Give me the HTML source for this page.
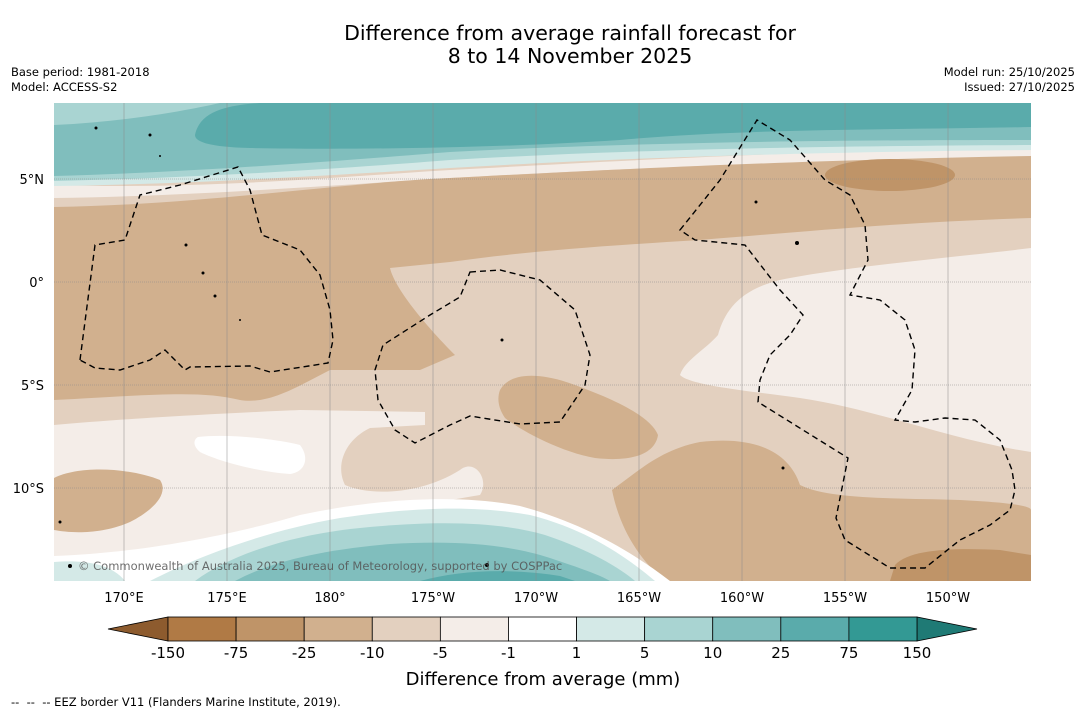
<!DOCTYPE html>
<html><head><meta charset="utf-8">
<style>
body{margin:0;background:#fff;width:1085px;height:713px;overflow:hidden;font-family:"DejaVu Sans","Liberation Sans",sans-serif;position:relative}
.t{position:absolute;white-space:nowrap;color:#000}
svg text{font-family:"DejaVu Sans","Liberation Sans",sans-serif}
</style></head><body>
<div class="t" style="left:0;width:1140px;text-align:center;top:22px;font-size:20.5px;line-height:23px">Difference from average rainfall forecast for<br>8 to 14 November 2025</div>
<div class="t" style="left:11px;top:65px;font-size:11.5px;line-height:15px">Base period: 1981-2018<br>Model: ACCESS-S2</div>
<div class="t" style="right:10px;top:65px;font-size:11.5px;line-height:15px;text-align:right">Model run: 25/10/2025<br>Issued: 27/10/2025</div>

<svg style="position:absolute;left:0;top:0" width="1085" height="713">
<defs><clipPath id="mc"><rect x="54" y="103" width="977" height="478"/></clipPath></defs>
<g clip-path="url(#mc)">
<rect x="54" y="103" width="977" height="478" fill="#e3d0bf"/>
<path fill="#f4ede8" d="M54,185 C200,190 350,176 450,170 C600,162 800,150 1031,148 L1031,158 C800,160 600,170 450,178 C350,184 200,196 54,198Z"/>
<path fill="#d1b08e" d="M54,207 C200,205 350,182 450,178 C600,170 800,160 1031,156 L1031,218 C900,222 800,232 700,240 C600,246 520,252 450,262 L390,268 C395,290 430,330 455,355 L420,370 L330,370 C300,385 270,405 240,400 C200,390 150,395 54,400Z"/>
<ellipse cx="890" cy="175" rx="65" ry="16" fill="#bf9468"/>
<path fill="#d4e9e7" d="M54,103 L1031,103 L1031,150 C800,152 620,158 450,168 C350,174 200,184 54,186Z"/>
<path fill="#a9d4d2" d="M54,103 L1031,103 L1031,145 C800,146 620,150 450,160 C350,168 200,178 54,181Z"/>
<path fill="#80bebd" d="M54,125 C120,122 180,112 220,103 L1031,103 L1031,140 C800,140 620,143 450,152 C350,160 200,172 54,176Z"/>
<path fill="#5aabab" d="M195,135 C200,110 230,105 260,103 L1031,103 L1031,127 C900,130 750,128 620,140 C500,148 350,150 250,148 C210,147 195,142 195,135Z"/>
<path fill="#f4ede8" d="M1031,248 C950,258 850,266 780,280 C740,290 725,310 718,335 C705,350 685,360 680,375 C690,385 740,390 800,398 C880,410 950,440 1031,452Z"/>
<path fill="#d1b08e" d="M612,490 C640,470 660,450 700,442 C760,435 790,455 800,485 C830,500 900,498 960,500 C1000,502 1031,505 1031,510 L1031,581 L665,581 C640,560 620,530 612,490Z"/>
<path fill="#bf9468" d="M895,565 C910,548 960,548 1000,550 L1031,555 L1031,581 L890,581Z"/>
<path fill="#d1b08e" d="M500,390 C510,372 540,372 575,385 C610,398 650,415 658,435 C655,455 630,462 595,458 C560,452 520,430 505,418 C498,408 497,398 500,390Z"/>
<path fill="#f4ede8" d="M54,425 C130,418 250,412 300,410 L425,412 L425,425 L370,428 C345,440 335,465 345,485 C370,496 420,495 460,470 C475,458 490,480 480,495 C420,505 330,520 250,540 C200,548 150,556 54,558Z"/>
<path fill="#fff" d="M198,437 C230,433 280,440 300,445 C310,458 305,472 290,474 C260,472 220,462 200,452 C193,446 193,440 198,437Z"/>
<path fill="#d1b08e" d="M54,478 C80,465 130,468 160,480 C170,495 150,512 130,522 C100,535 70,533 54,530Z"/>
<path fill="#fff" d="M54,556 C150,553 250,530 300,515 C380,498 460,494 520,506 C580,522 630,550 670,581 L54,581Z"/>
<path fill="#d4e9e7" d="M150,581 C200,555 270,530 340,518 C420,506 480,506 530,515 C590,530 630,560 655,581Z"/>
<path fill="#a9d4d2" d="M195,581 C230,555 290,535 360,528 C440,520 500,522 545,535 C590,550 620,568 635,581Z"/>
<path fill="#80bebd" d="M235,581 C270,562 320,550 390,544 C460,540 510,545 550,558 C580,568 600,575 610,581Z"/>
<path fill="#5aabab" d="M420,581 C460,570 510,568 560,576 L575,581Z"/>
<path fill="#d4e9e7" d="M54,562 C80,560 110,562 125,581 L54,581Z"/>
<g stroke="#8a8a8a" stroke-width="0.5">
<line x1="124" y1="103" x2="124" y2="581"/><line x1="227" y1="103" x2="227" y2="581"/><line x1="330" y1="103" x2="330" y2="581"/><line x1="433" y1="103" x2="433" y2="581"/><line x1="536" y1="103" x2="536" y2="581"/><line x1="639" y1="103" x2="639" y2="581"/><line x1="742" y1="103" x2="742" y2="581"/><line x1="845" y1="103" x2="845" y2="581"/><line x1="948" y1="103" x2="948" y2="581"/>
<g stroke-dasharray="1,1"><line x1="54" y1="179" x2="1031" y2="179"/><line x1="54" y1="282" x2="1031" y2="282"/><line x1="54" y1="385" x2="1031" y2="385"/><line x1="54" y1="488" x2="1031" y2="488"/></g>
</g>
<g fill="none" stroke="#000" stroke-width="1.4" stroke-dasharray="6,4">
<path d="M80,360 L95,245 L125,240 L140,195 L180,185 L238,167 L250,190 L262,235 L300,250 L320,275 L330,310 L333,340 L328,363 L270,372 L250,366 L190,367 L185,370 L165,350 L150,360 L120,370 L95,368Z"/>
<path d="M470,272 L500,270 L540,280 L575,310 L590,355 L585,385 L560,422 L520,424 L470,416 L450,425 L415,443 L395,430 L378,400 L375,370 L383,345 L430,315 L460,297Z"/>
<path d="M680,230 L720,180 L757,120 L790,140 L825,180 L850,195 L865,225 L868,260 L850,295 L880,300 L905,320 L915,350 L912,390 L895,420 L915,422 L945,418 L975,420 L1000,440 L1012,470 L1015,490 L1010,510 L990,525 L960,540 L925,568 L890,568 L845,540 L836,518 L848,458 L758,402 L760,380 L770,355 L790,335 L803,315 L780,290 L745,245 L695,240Z"/>
</g>
<g fill="#000">
<circle cx="96" cy="128" r="1.5"/><circle cx="150" cy="135" r="1.5"/><circle cx="160" cy="156" r="1"/><circle cx="186" cy="245" r="1.5"/><circle cx="203" cy="273" r="1.5"/><circle cx="215" cy="296" r="1.5"/><circle cx="240" cy="320" r="1"/><circle cx="502" cy="340" r="1.5"/><circle cx="756" cy="202" r="1.5"/><circle cx="797" cy="243" r="2"/><circle cx="783" cy="468" r="1.5"/><circle cx="487" cy="565" r="2"/><circle cx="60" cy="522" r="1.5"/><circle cx="70" cy="566" r="2"/>
</g>
</g>
<text x="78" y="570" font-size="11.5" fill="#555" opacity="0.85">© Commonwealth of Australia 2025, Bureau of Meteorology, supported by COSPPac</text>
<g font-size="13" text-anchor="middle">
<text x="124" y="602">170°E</text><text x="227" y="602">175°E</text><text x="330" y="602">180°</text><text x="433" y="602">175°W</text><text x="536" y="602">170°W</text><text x="639" y="602">165°W</text><text x="742" y="602">160°W</text><text x="845" y="602">155°W</text><text x="948" y="602">150°W</text>
</g>
<g font-size="13" text-anchor="end">
<text x="44" y="184">5°N</text><text x="44" y="287">0°</text><text x="44" y="390">5°S</text><text x="44" y="493">10°S</text>
</g>
<g id="cbar"></g>
<text x="543" y="685" font-size="18" text-anchor="middle">Difference from average (mm)</text>
<text x="11" y="706" font-size="11.5" xml:space="preserve">--  --  -- EEZ border V11 (Flanders Marine Institute, 2019).</text>
</svg>
<script>
const tickLabels=["-150","-75","-25","-10","-5","-1","1","5","10","25","75","150"];
const bandColors=["#b07a45","#bf9468","#d1b08e","#e3d0bf","#f4ede8","#ffffff","#d4e9e7","#a9d4d2","#80bebd","#5aabab","#339994"];
const endColors=["#8d5b2e","#1f7a75"];
const NS="http://www.w3.org/2000/svg";
const g=document.getElementById('cbar');
const x0=168,x1=917,y0=617,h=24,w=(x1-x0)/bandColors.length;
function mk(tag,attrs){const e=document.createElementNS(NS,tag);for(const k in attrs)e.setAttribute(k,attrs[k]);g.appendChild(e);return e;}
const lt=mk('polygon',{points:`${x0},${y0} ${x0},${y0+h} 108,${y0+h/2}`,fill:endColors[0],stroke:'#000','stroke-width':0.8});


const rt=mk('polygon',{points:`${x1},${y0} ${x1},${y0+h} 977,${y0+h/2}`,fill:endColors[1],stroke:'#000','stroke-width':0.8});


bandColors.forEach((c,i)=>{
 const r=mk('rect',{x:x0+i*w,y:y0,width:w,height:h,fill:c,stroke:'#000','stroke-width':0.8});
 
 
});
tickLabels.forEach((t,i)=>{
 const tx=mk('text',{x:x0+i*w,y:658,'font-size':15,'text-anchor':'middle'});
 tx.textContent=t;
 
 
});
</script>
</body></html>
